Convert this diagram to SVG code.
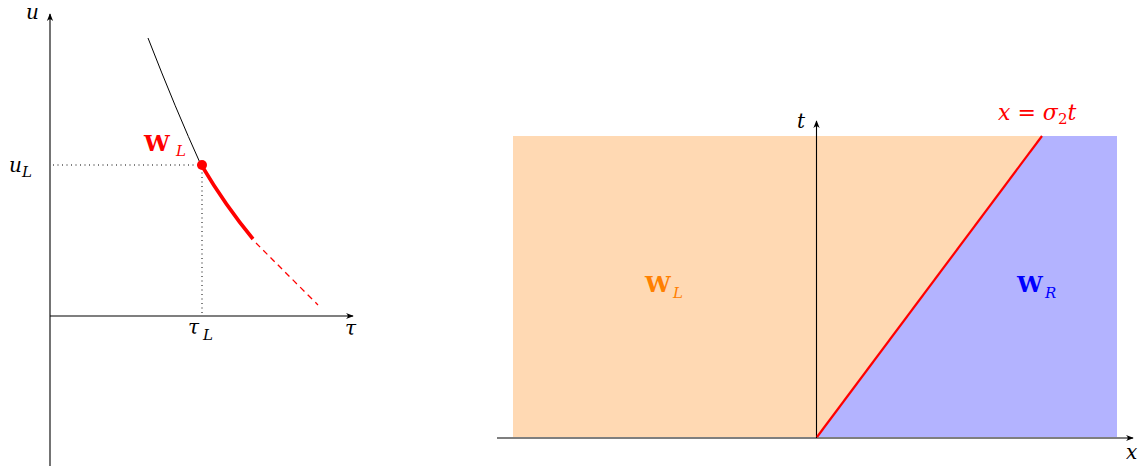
<svg xmlns="http://www.w3.org/2000/svg" width="1145" height="468" viewBox="0 0 1145 468">
<defs>
<marker id="arr" viewBox="0 0 10 10" refX="9" refY="5" markerWidth="8" markerHeight="8" markerUnits="userSpaceOnUse" orient="auto">
<path d="M0,1 Q5,5 0,9 L10,5 Z" fill="#000"/>
</marker>
<style>
.ax{stroke:#000;stroke-width:1.1;fill:none}
.dot{stroke:#000;stroke-width:1;stroke-dasharray:1 3.5;fill:none}
</style>
</defs>
<rect width="1145" height="468" fill="#fff"/>

<g id="left-plot">
<g id="connectors">
<line class="ax" x1="50" y1="466" x2="50" y2="14" marker-end="url(#arr)"/>
<line class="ax" x1="50" y1="316" x2="353" y2="316" marker-end="url(#arr)"/>
<line class="dot" x1="53" y1="165" x2="202" y2="165"/>
<line class="dot" x1="202" y1="168" x2="202" y2="314"/>
<path d="M148,38 Q176,110 201,165" fill="none" stroke="#000" stroke-width="1"/>
<path d="M202,166 Q225,205 253,239" fill="none" stroke="#f00" stroke-width="3.6"/>
<path d="M256,243 Q286,273 318,305" fill="none" stroke="#ff0000" stroke-width="1.3" stroke-dasharray="6 4.5"/>
</g>
<g id="point-WL" font-family="'DejaVu Serif', serif">
<circle cx="202" cy="165" r="5" fill="#f00"/>
<text x="144" y="151" font-size="23" font-weight="bold" fill="#f00">W</text>
<text x="176" y="156" font-size="15" font-style="italic" fill="#f00">L</text>
</g>
<g id="labels-left" font-family="'DejaVu Serif', serif" font-style="italic">
<text x="26" y="19" font-size="20">u</text>
<text x="9" y="172" font-size="20">u</text>
<text x="22" y="177" font-size="15">L</text>
<text x="188" y="334" font-size="20">τ</text>
<text x="203" y="340" font-size="15">L</text>
<text x="345" y="335" font-size="20">τ</text>
</g>
</g>

<g id="right-plot">
<g id="region-L"><rect x="513" y="136" width="604" height="301" fill="#FFD9B3"/></g>
<g id="region-R"><polygon points="817,437 1042,136 1117,136 1117,437" fill="#B3B3FF"/></g>
<g id="connectors-right">
<line class="ax" x1="497" y1="438" x2="1133" y2="438" marker-end="url(#arr)"/>
<line class="ax" x1="816.5" y1="438" x2="816.5" y2="121" marker-end="url(#arr)"/>
<line x1="817" y1="437" x2="1042" y2="136" stroke="#f00" stroke-width="2.2"/>
</g>
<g id="labels-right" font-family="'DejaVu Serif', serif">
<text x="797" y="128" font-size="20" font-style="italic">t</text>
<text x="1126" y="459" font-size="20" font-style="italic">x</text>
<text x="645" y="292" font-size="23" font-weight="bold" fill="#FF8000">W</text>
<text x="673" y="298" font-size="15" font-style="italic" fill="#FF8000">L</text>
<text x="1017" y="292" font-size="23" font-weight="bold" fill="#00f">W</text>
<text x="1045" y="298" font-size="15" font-style="italic" fill="#00f">R</text>
<text x="998" y="120" fill="#f00" font-size="22"><tspan font-style="italic">x</tspan><tspan> = </tspan><tspan font-style="italic">σ</tspan><tspan font-size="15" dy="4">2</tspan><tspan font-style="italic" dy="-4">t</tspan></text>
</g>
</g>
</svg>
